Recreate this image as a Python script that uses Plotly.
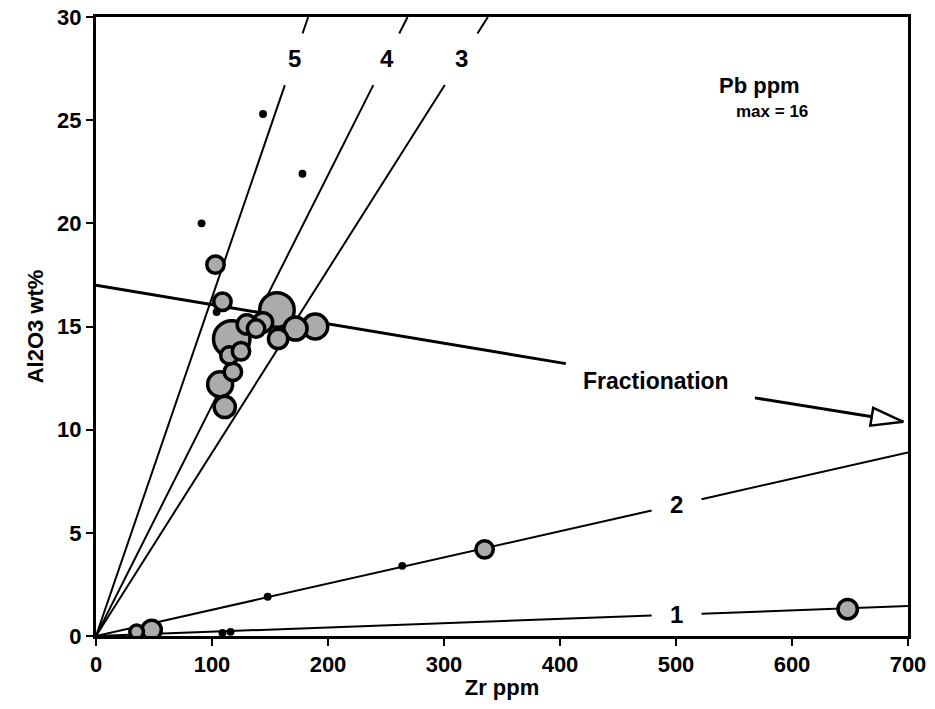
import math
import plotly.graph_objects as go

# ---------------- data ----------------
zr = [117, 156, 107, 189, 172, 111, 103, 109, 118, 115, 130, 144, 157, 125, 138,
      335, 648, 48, 35,
      91, 144, 178, 104, 148, 264, 116, 109]
al2o3 = [14.4, 15.8, 12.2, 15.0, 14.9, 11.1, 18.0, 16.2, 12.8, 13.6, 15.1, 15.2, 14.4, 13.8, 14.9,
         4.2, 1.3, 0.3, 0.2,
         20.0, 25.3, 22.4, 15.7, 1.9, 3.4, 0.2, 0.15]
pb = [16, 15, 10, 10, 9, 8, 6, 6, 6, 6, 7, 7, 7, 6, 6,
      6, 7, 7, 4,
      1, 1, 1, 1, 1, 1, 1, 1]

ratio_labels = ["1", "2", "3", "4", "5"]
ratio_slopes = [0.00207, 0.0127, 0.0888, 0.1117, 0.1640]

frac_x = [0, 405]
frac_y = [17.0, 13.2]
arrow_x = [568, 696]
arrow_y = [11.54, 10.38]

x_ticks = [0, 100, 200, 300, 400, 500, 600, 700]
y_ticks = [0, 5, 10, 15, 20, 25, 30]

# ---------------- layout constants ----------------
W, H = 935, 709
ML, MR, MT, MB = 96, 27, 17, 73
XMAX, YMAX = 700, 30
px_x = (W - ML - MR) / XMAX
px_y = (H - MT - MB) / YMAX

FONT = "Liberation Sans"
fig = go.Figure()

# ratio lines with gaps for labels
gap_x = (479, 522)       # for shallow lines 1, 2
gap_y = (26.7, 29.2)     # for steep lines 3, 4, 5
for lab, s in zip(ratio_labels, ratio_slopes):
    if s * XMAX <= YMAX:
        segs = [(0, gap_x[0]), (gap_x[1], XMAX)]
        lx = (gap_x[0] + gap_x[1]) / 2
    else:
        segs = [(0, gap_y[0] / s), (gap_y[1] / s, YMAX / s)]
        lx = 28.0 / s
    for a, b in segs:
        fig.add_trace(go.Scatter(x=[a, b], y=[a * s, b * s], mode="lines",
                                 line=dict(color="black", width=2),
                                 showlegend=False, hoverinfo="skip"))
    fig.add_annotation(x=lx, y=lx * s, text=lab, showarrow=False,
                       font=dict(family=FONT, size=24, color="black", weight="bold"))

# fractionation line
fig.add_trace(go.Scatter(x=frac_x, y=frac_y, mode="lines",
                         line=dict(color="black", width=3),
                         showlegend=False, hoverinfo="skip"))
# arrow shaft
fig.add_trace(go.Scatter(x=arrow_x, y=arrow_y, mode="lines",
                         line=dict(color="black", width=3),
                         showlegend=False, hoverinfo="skip"))
# open triangular arrow head (built in pixel space, converted to data)
dxp = (arrow_x[1] - arrow_x[0]) * px_x
dyp = -(arrow_y[1] - arrow_y[0]) * px_y
L = math.hypot(dxp, dyp)
ux, uy = dxp / L, dyp / L
hl, hw = 32, 9
tipx, tipy = arrow_x[1] * px_x, -arrow_y[1] * px_y
bx, by = tipx - ux * hl, tipy - uy * hl
pts = [(tipx, tipy), (bx - uy * hw, by + ux * hw), (bx + uy * hw, by - ux * hw), (tipx, tipy)]
fig.add_trace(go.Scatter(x=[p[0] / px_x for p in pts], y=[-p[1] / px_y for p in pts],
                         mode="lines", fill="toself", fillcolor="white",
                         line=dict(color="black", width=2.5),
                         showlegend=False, hoverinfo="skip"))

# bubbles
sizes = [6 + 1.9 * v for v in pb]
colors = ["black" if v <= 1 else "#ababab" for v in pb]
lw = [0 if v <= 1 else 3.5 for v in pb]
fig.add_trace(go.Scatter(x=zr, y=al2o3, mode="markers",
                         marker=dict(size=sizes, color=colors, opacity=1,
                                     line=dict(color="black", width=lw)),
                         showlegend=False))

fig.add_annotation(x=483, y=12.35, text="Fractionation", showarrow=False,
                   font=dict(family=FONT, size=23, color="black", weight="bold"))
fig.add_annotation(x=572, y=26.7, text="Pb ppm", showarrow=False,
                   font=dict(family=FONT, size=22, color="black", weight="bold"))
fig.add_annotation(x=583, y=25.4, text="max = 16", showarrow=False,
                   font=dict(family=FONT, size=17, color="black", weight="bold"))

axis_common = dict(showgrid=False, zeroline=False, showline=True, linecolor="black",
                   linewidth=3, mirror=True, ticks="outside", ticklen=7, tickwidth=2,
                   tickcolor="black", automargin=False,
                   tickfont=dict(family=FONT, size=22, color="black", weight="bold"))
fig.update_xaxes(range=[0, XMAX], tickvals=x_ticks,
                 title=dict(text="Zr ppm", standoff=4,
                            font=dict(family=FONT, size=22, color="black", weight="bold")),
                 **axis_common)
fig.update_yaxes(range=[0, YMAX], tickvals=y_ticks,
                 title=dict(text="Al2O3 wt%", standoff=8,
                            font=dict(family=FONT, size=22, color="black", weight="bold")),
                 **axis_common)
fig.update_layout(width=W, height=H, margin=dict(l=ML, r=MR, t=MT, b=MB),
                  plot_bgcolor="white", paper_bgcolor="white")
fig.write_html("out.html")
